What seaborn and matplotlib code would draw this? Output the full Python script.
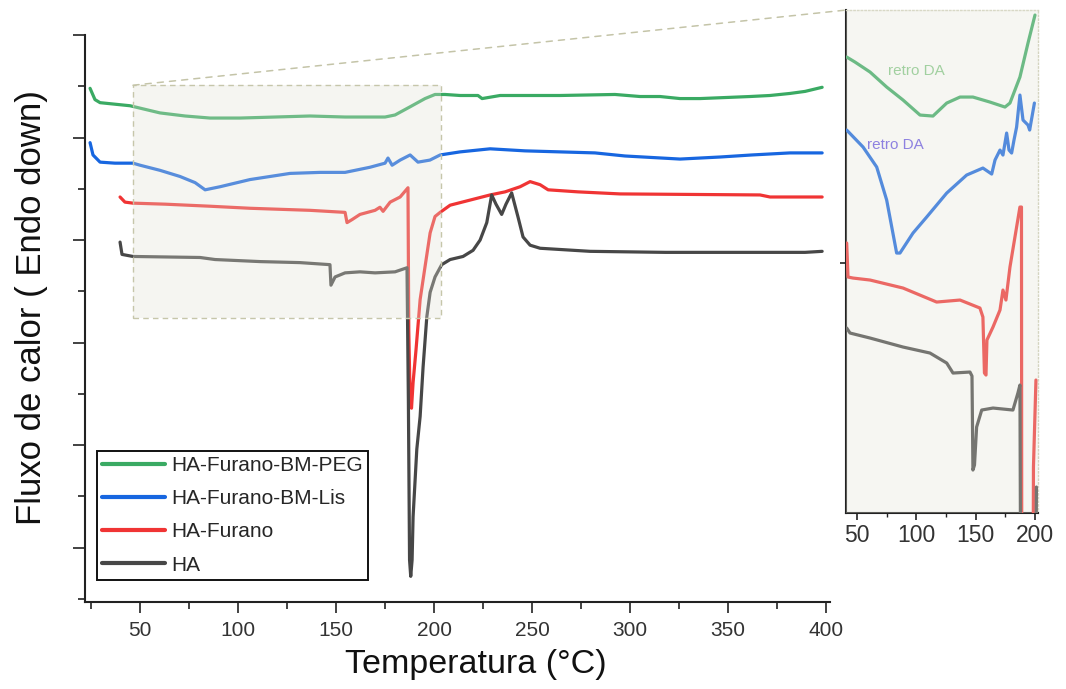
import matplotlib
matplotlib.use("Agg")
import matplotlib.pyplot as plt
import seaborn as sns
from matplotlib.patches import Rectangle, ConnectionPatch
from matplotlib.ticker import MultipleLocator, FixedLocator, NullFormatter

# ---- DSC traces over the full run: temperature (°C) and heat flow (a.u.) ----
peg_T = [24.5, 27.0, 29.6, 44.9, 60.2, 73.0, 85.7, 101.0, 118.9, 136.7, 154.6, 175.0,
         180.1, 187.8, 195.4, 200.5, 205.6, 213.3, 222.4, 224.5, 233.7, 264.3, 292.3,
         305.1, 315.3, 325.5, 335.7, 361.2, 371.4, 381.6, 389.3, 398.0]
peg_q = [4.48, 4.37, 4.34, 4.31, 4.24, 4.21, 4.19, 4.19, 4.20, 4.21, 4.20, 4.20,
         4.22, 4.30, 4.38, 4.42, 4.42, 4.41, 4.41, 4.38, 4.41, 4.41, 4.42,
         4.40, 4.40, 4.38, 4.38, 4.40, 4.41, 4.43, 4.45, 4.49]

lis_T = [24.5, 26.0, 29.6, 37.2, 46.4, 50.0, 60.2, 70.4, 78.1, 83.2, 90.8, 106.1,
         126.5, 141.8, 154.6, 167.3, 175.0, 176.5, 178.6, 182.7, 187.8, 191.8, 197.9,
         203.1, 213.3, 228.6, 246.4, 282.1, 297.4, 325.5, 345.9, 362.2, 381.6, 398.0]
lis_q = [3.95, 3.83, 3.76, 3.75, 3.75, 3.73, 3.68, 3.62, 3.56, 3.49, 3.52, 3.59,
         3.65, 3.66, 3.66, 3.71, 3.75, 3.80, 3.73, 3.78, 3.83, 3.76, 3.78,
         3.83, 3.86, 3.89, 3.87, 3.85, 3.82, 3.79, 3.81, 3.83, 3.85, 3.85]

fur_T = [39.8, 42.3, 46.4, 62.8, 85.7, 106.1, 136.7, 154.6, 155.6, 158.2, 162.2, 169.9,
         172.4, 174.0, 177.6, 182.7, 186.7, 187.1, 187.8, 188.5, 189.3, 190.8, 192.9,
         195.4, 198.0, 200.5, 203.1, 208.2, 218.4, 228.6, 236.2, 243.9, 249.0, 254.1,
         258.2, 273.5, 294.9, 366.3, 371.4, 398.0]
fur_q = [3.42, 3.37, 3.36, 3.35, 3.33, 3.31, 3.29, 3.27, 3.17, 3.20, 3.25, 3.29,
         3.32, 3.28, 3.37, 3.42, 3.51, 2.12, 1.44, 1.36, 1.61, 1.93, 2.42,
         2.74, 3.07, 3.23, 3.27, 3.34, 3.39, 3.44, 3.47, 3.52, 3.57, 3.54,
         3.49, 3.47, 3.45, 3.44, 3.42, 3.42]

ha_T = [39.8, 40.8, 46.4, 80.6, 88.3, 111.2, 131.6, 146.9, 147.4, 149.5, 154.6, 162.2,
        169.9, 180.1, 186.2, 186.9, 187.5, 188.1, 188.8, 189.3, 191.2, 192.9, 194.4,
        196.3, 198.0, 200.5, 203.9, 208.2, 214.8, 219.9, 223.5, 226.9, 229.4, 231.6,
        234.5, 236.7, 239.6, 242.9, 245.4, 249.0, 254.1, 279.6, 317.9, 389.3, 398.0]
ha_q = [2.98, 2.86, 2.84, 2.83, 2.81, 2.79, 2.78, 2.76, 2.56, 2.64, 2.68, 2.69,
        2.68, 2.69, 2.73, 1.44, -0.12, -0.28, -0.12, 0.30, 0.96, 1.28, 1.76,
        2.25, 2.49, 2.64, 2.76, 2.81, 2.84, 2.90, 3.00, 3.17, 3.44, 3.35,
        3.25, 3.35, 3.46, 3.22, 3.03, 2.95, 2.92, 2.89, 2.88, 2.88, 2.89]

# ---- expanded view of the 40-200 °C region (rescaled heat flow, a.u.) ----
zpeg_T = [41.3, 48.3, 61.0, 75.0, 88.8, 103.1, 114.0, 125.6, 136.8, 147.7, 162.0,
          174.7, 178.9, 187.3, 194.1, 200.0]
zpeg_q = [4.56, 4.51, 4.41, 4.26, 4.13, 3.98, 3.97, 4.10, 4.16, 4.16, 4.11,
          4.06, 4.10, 4.36, 4.70, 4.98]

zlis_T = [41.3, 55.1, 66.6, 75.0, 83.4, 86.2, 97.2, 108.7, 125.6, 142.4, 156.1, 163.5,
          166.3, 170.5, 173.0, 176.1, 178.1, 180.3, 182.3, 184.5, 187.3, 189.9, 194.1,
          195.5, 199.5]
zlis_q = [3.83, 3.66, 3.46, 3.13, 2.60, 2.60, 2.80, 2.96, 3.20, 3.38, 3.45, 3.39,
          3.53, 3.63, 3.58, 3.80, 3.63, 3.60, 3.73, 3.86, 4.18, 3.93, 3.88,
          3.83, 4.10]

zfur_T = [41.3, 42.4, 46.6, 61.0, 88.8, 117.1, 136.8, 153.6, 156.1, 157.4, 158.7, 159.5,
          164.6, 170.5, 173.0, 175.5, 178.9, 184.5, 187.3, 188.6, 189.0, 197.9, 198.7, 200.8]
zfur_q = [2.70, 2.36, 2.35, 2.33, 2.25, 2.11, 2.13, 2.05, 1.96, 1.40, 1.38, 1.73,
          1.86, 2.03, 2.23, 2.13, 2.46, 2.86, 3.06, 3.06, -3.0, -3.0, 0.46, 1.33]

zha_T = [41.3, 44.1, 61.0, 88.8, 111.5, 125.6, 130.9, 145.2, 146.9, 147.7, 149.0, 150.8,
         155.1, 164.6, 181.4, 185.6, 187.3, 188.6, 200.0, 201.2]
zha_q = [1.85, 1.80, 1.75, 1.66, 1.60, 1.50, 1.40, 1.41, 1.37, 0.43, 0.48, 0.86,
         1.03, 1.05, 1.03, 1.20, 1.28, -3.0, -3.0, 0.26]

labels = ["HA-Furano-BM-PEG", "HA-Furano-BM-Lis", "HA-Furano", "HA"]
colors = ["#3aaa63", "#1766e0", "#f03434", "#474747"]
zoom_box = (46.4, 203.6, 2.24, 4.51)   # T range and heat-flow range of the highlighted window
retro_pos = [(99.7, 4.42), (82.0, 3.68)]
retro_colors = ["#86c98a", "#6a58e6"]
shade = "#e2e2d4"

sns.set_theme(style="ticks")
plt.rcParams["font.family"] = ["Liberation Sans", "DejaVu Sans"]
plt.rcParams["axes.edgecolor"] = "#222222"

fig = plt.figure(figsize=(10.66, 6.89), dpi=100)
ax = fig.add_axes([0.0797, 0.1263, 0.6989, 0.8229])

main_series = [(peg_T, peg_q), (lis_T, lis_q), (fur_T, fur_q), (ha_T, ha_q)]
for (T, q), c, lab in zip(main_series, colors, labels):
    sns.lineplot(x=T, y=q, ax=ax, color=c, lw=2.3, estimator=None, sort=False,
                 label=lab, zorder=3)

ax.set_xlim(21.9, 402)
ax.set_ylim(-0.53, 5.0)
for s in ["top", "right"]:
    ax.spines[s].set_visible(False)
for s in ["left", "bottom"]:
    ax.spines[s].set_linewidth(1.5)
    ax.spines[s].set_color("#222222")

ax.xaxis.set_major_locator(MultipleLocator(50))
ax.xaxis.set_minor_locator(MultipleLocator(25))
ax.yaxis.set_major_locator(MultipleLocator(1))
ax.yaxis.set_minor_locator(MultipleLocator(0.5))
ax.tick_params(axis="x", which="major", length=8, width=1.2, pad=6,
               labelsize=15, labelcolor="#333333", color="#222222")
ax.tick_params(axis="x", which="minor", length=5, width=1.2, color="#222222")
ax.tick_params(axis="y", which="major", length=8.5, width=1.2, labelleft=False,
               color="#222222")
ax.tick_params(axis="y", which="minor", length=5, width=1.2, color="#222222")

ax.set_xlabel("Temperatura (°C)", fontsize=24.5, color="#111111")
ax.xaxis.set_label_coords(0.525, -0.083)
ax.set_ylabel("Fluxo de calor ( Endo down)", fontsize=25, color="#111111")
ax.yaxis.set_label_coords(-0.05, 0.52)

# highlighted window, shaded on top of the curves
t0, t1, q0, q1 = zoom_box
ax.add_patch(Rectangle((t0, q0), t1 - t0, q1 - q0, facecolor=shade, alpha=0.32,
                       edgecolor="none", zorder=5))
ax.add_patch(Rectangle((t0, q0), t1 - t0, q1 - q0, fill=False, edgecolor="#c6c6aa",
                       lw=1.0, ls=(0, (4, 3)), zorder=6))

leg = ax.legend(loc="lower left", bbox_to_anchor=(0.016, 0.039), borderaxespad=0,
                fontsize=15, frameon=True, fancybox=False, framealpha=1,
                edgecolor="#111111", handlelength=3.0, handletextpad=0.3,
                labelspacing=0.68, borderpad=0.25)
leg.get_frame().set_linewidth(1.4)
for h in leg.get_lines():
    h.set_linewidth(3)

# ---- expanded view ----
axi = fig.add_axes([0.7936, 0.2554, 0.1801, 0.7300])
axi.set_facecolor("white")
zoom_series = [(zpeg_T, zpeg_q), (zlis_T, zlis_q), (zfur_T, zfur_q), (zha_T, zha_q)]
for (T, q), c in zip(zoom_series, colors):
    sns.lineplot(x=T, y=q, ax=axi, color=c, lw=2.3, estimator=None, sort=False, zorder=3)
for (tx, ty), c in zip(retro_pos, retro_colors):
    axi.text(tx, ty, "retro DA", color=c, fontsize=11, ha="center", va="center", zorder=4)

axi.set_xlim(40.7, 202.5)
axi.set_ylim(0, 5.03)
axi.add_patch(Rectangle((0, 0), 1, 1, transform=axi.transAxes, facecolor=shade,
                        alpha=0.3, edgecolor="none", zorder=5))
for s in ["left", "bottom"]:
    axi.spines[s].set_linewidth(1.5)
    axi.spines[s].set_color("#222222")
for s in ["top", "right"]:
    axi.spines[s].set_linewidth(1.0)
    axi.spines[s].set_color("#d4d4c0")
    axi.spines[s].set_linestyle(":")
axi.set_xlabel("")
axi.set_ylabel("")
axi.xaxis.set_major_locator(MultipleLocator(50))
axi.xaxis.set_minor_locator(FixedLocator([75, 125, 175]))
axi.yaxis.set_major_locator(FixedLocator([2.5]))
axi.yaxis.set_major_formatter(NullFormatter())
axi.tick_params(axis="x", which="major", length=5, width=1.2, pad=3,
                labelsize=16.5, labelcolor="#333333", color="#222222")
axi.tick_params(axis="x", which="minor", length=3, width=1.0, color="#222222")
axi.tick_params(axis="y", which="major", length=4, width=1.2, color="#222222")

# dashed guide from the highlighted window to the expanded view
con = ConnectionPatch(xyA=(t0, q1), coordsA=ax.transData, xyB=(0, 1),
                      coordsB=axi.transAxes, color="#c4c4a8", lw=1.1,
                      ls=(0, (4, 4)), zorder=1)
fig.add_artist(con)

fig.savefig("out.png", dpi=100)
